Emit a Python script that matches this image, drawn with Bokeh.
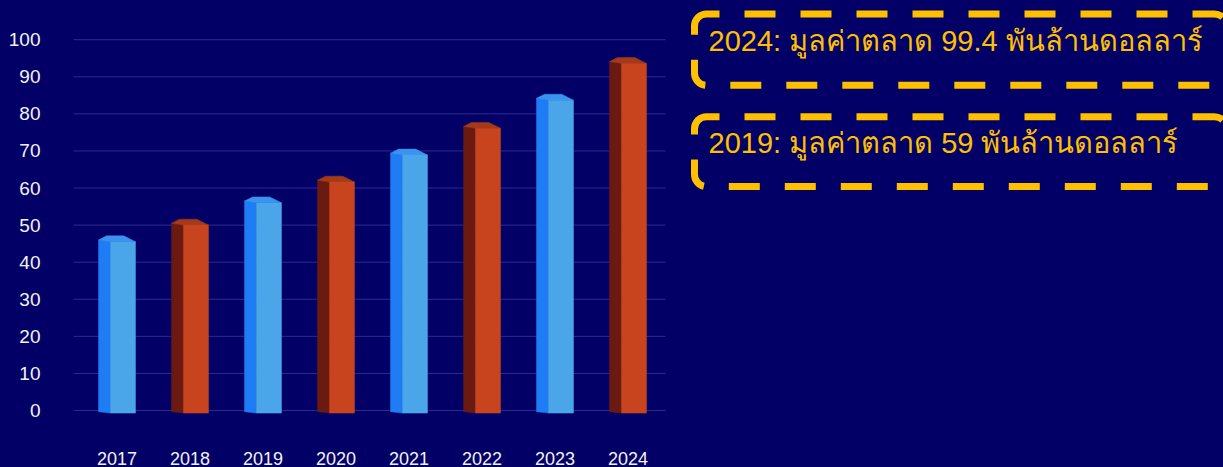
from bokeh.plotting import figure
from bokeh.models import Range1d, FixedTicker
from bokeh.core.properties import value
from bokeh.embed import file_html
from bokeh.resources import INLINE

# ---- data ----
years = ["2017", "2018", "2019", "2020", "2021", "2022", "2023", "2024"]
market_value = [45.5, 50.0, 56.0, 61.6, 68.9, 76.1, 83.7, 93.6]
y_ticks = [0, 10, 20, 30, 40, 50, 60, 70, 80, 90, 100]
notes = ["2024: มูลค่าตลาด 99.4 พันล้านดอลลาร์", "2019: มูลค่าตลาด 59 พันล้านดอลลาร์"]

BG = "#020066"
GOLD = "#ffc000"
front_cols = ["#4aa6e8", "#c8441f"]
side_cols = ["#1e7cf5", "#6a1a10"]
top_cols = ["#3a93f0", "#a53a1a"]

xpos = list(range(len(years)))

# layout in pixels
W, H = 1223, 467
FRAME_L, FRAME_B = 73, 421
ORIGIN_X, SLOT = 116.5, 73.0       # pixel centre of first bar, pixels per slot
ZERO_Y, UNIT = 411.0, 3.717        # pixel of value 0, pixels per value unit
X0, X1 = -(ORIGIN_X - FRAME_L) / SLOT, (W - ORIGIN_X) / SLOT
Y0, Y1 = -(FRAME_B - ZERO_Y) / UNIT, ZERO_Y / UNIT
GRID_END = (665 - ORIGIN_X) / SLOT

p = figure(width=W, height=H, output_backend="svg", toolbar_location=None,
           x_range=Range1d(X0, X1), y_range=Range1d(Y0, Y1),
           min_border_left=FRAME_L, min_border_right=0, min_border_top=0,
           min_border_bottom=H - FRAME_B)
p.background_fill_color = None
p.border_fill_color = BG
p.outline_line_color = None
p.grid.visible = False

# gridlines
p.segment(x0=[X0] * len(y_ticks), x1=[GRID_END] * len(y_ticks), y0=y_ticks, y1=y_ticks,
          line_color="#2c2c8c", line_width=1)

# pseudo-3D bars
XL, XF, XR = -0.253, -0.09, 0.253
B_FRONT, B_SIDE = -0.7, -0.3
side_xs, side_ys, top_xs, top_ys = [], [], [], []
fc, sc, tc = [], [], []
for i, v in zip(xpos, market_value):
    side_xs.append([i + XL, i + XL, i + XF, i + XF])
    side_ys.append([B_SIDE, v + 0.5, v, B_FRONT])
    top_xs.append([i + XL, i + XL + 0.11, i + XR - 0.16, i + XR, i + XF])
    top_ys.append([v + 0.5, v + 1.6, v + 1.6, v, v])
    k = i % 2
    fc.append(front_cols[k]); sc.append(side_cols[k]); tc.append(top_cols[k])

p.patches(side_xs, side_ys, fill_color=sc, line_color=sc, line_width=0.5)
p.patches(top_xs, top_ys, fill_color=tc, line_color=tc, line_width=0.5)
p.quad(left=[i + XF for i in xpos], right=[i + XR for i in xpos],
       bottom=[B_FRONT] * len(xpos), top=market_value,
       fill_color=fc, line_color=fc, line_width=0.5)

p.yaxis.ticker = FixedTicker(ticks=y_ticks)
p.xaxis.ticker = FixedTicker(ticks=xpos)
p.xaxis.major_label_overrides = {i: y for i, y in zip(xpos, years)}
for ax in (p.xaxis, p.yaxis):
    ax.axis_line_color = None
    ax.major_tick_line_color = None
    ax.minor_tick_line_color = None
    ax.major_label_text_color = "#f2f2f2"
    ax.major_label_text_font = "Liberation Sans"
p.yaxis.major_label_text_font_size = "19px"
p.xaxis.major_label_text_font_size = "18px"
p.yaxis.major_label_standoff = 27
p.xaxis.major_label_standoff = 25

# ---- annotation boxes (placed in pixel terms, converted to the chart's scales) ----
def px_x(px):
    return (px - ORIGIN_X) / SLOT

def px_y(py):
    return (ZERO_Y - py) / UNIT

box_left, box_right = 694, 1226
box_tops = [13.5, 116.5]
box_bottoms = [85.0, 186.5]
text_x = 708
text_base = [41, 143]

p.quad(left=[px_x(box_left)] * 2, right=[px_x(box_right)] * 2,
       top=[px_y(t) for t in box_tops], bottom=[px_y(b) for b in box_bottoms],
       fill_alpha=0, line_color=GOLD, line_width=7, line_dash="31 25",
       line_dash_offset=18, border_radius=12)
p.text(x=[px_x(text_x)] * 2, y=[px_y(b) for b in text_base], text=notes,
       text_color=GOLD, text_font=value("Liberation Sans"), text_font_size="29px",
       text_baseline="alphabetic", text_align="left")

html = file_html(p, INLINE)
html = html.replace("</head>", "<style>html,body{background:%s;}</style></head>" % BG, 1)
open("out.html", "w").write(html)
